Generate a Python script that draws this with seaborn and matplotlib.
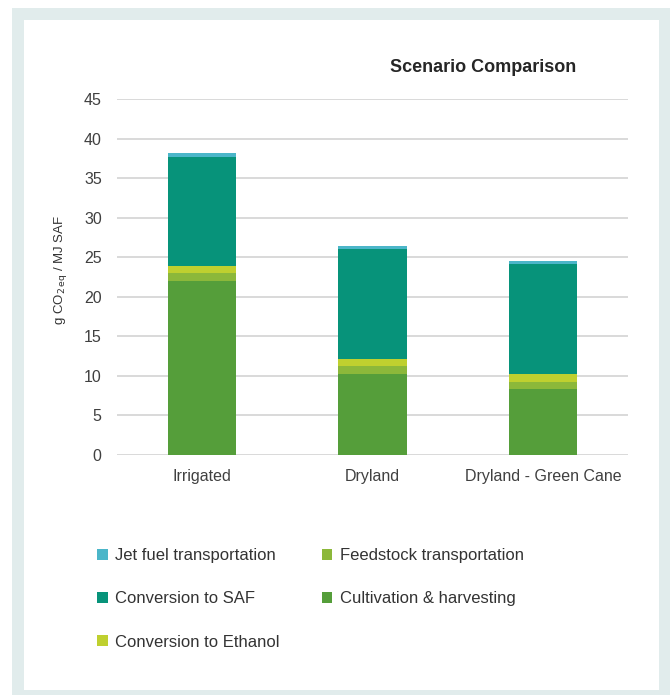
import numpy as np
import pandas as pd
import matplotlib.pyplot as plt
import seaborn as sns
from matplotlib.patches import Rectangle, Patch

# values (g CO2eq / MJ SAF)
scenarios = ['Irrigated', 'Dryland', 'Dryland - Green Cane']
cultivation = [22.0, 10.2, 8.3]
feedstock = [1.0, 1.0, 0.9]
ethanol = [0.9, 0.9, 1.0]
saf = [13.8, 13.9, 13.9]
jet_fuel = [0.45, 0.45, 0.45]

stages = ['Cultivation & harvesting', 'Feedstock transportation',
          'Conversion to Ethanol', 'Conversion to SAF', 'Jet fuel transportation']
colors = {
    'Cultivation & harvesting': '#559e3a',
    'Feedstock transportation': '#8cb83a',
    'Conversion to Ethanol': '#bfd02f',
    'Conversion to SAF': '#07937a',
    'Jet fuel transportation': '#4bb6c9',
}

df = pd.DataFrame({'scenario': scenarios,
                   'Cultivation & harvesting': cultivation,
                   'Feedstock transportation': feedstock,
                   'Conversion to Ethanol': ethanol,
                   'Conversion to SAF': saf,
                   'Jet fuel transportation': jet_fuel})
# cumulative heights so each layer can be drawn over the one above it
cum = df[stages].cumsum(axis=1)
cum['scenario'] = df['scenario']

sns.set_theme(style='whitegrid')
plt.rcParams['font.family'] = ['Liberation Sans', 'DejaVu Sans']

fig = plt.figure(figsize=(6.7, 6.95), dpi=100)
fig.patch.set_facecolor('white')
# light frame around the panel
fig.patches.append(Rectangle((12 / 670, 0), 658 / 670, 687 / 695, transform=fig.transFigure,
                             facecolor='#e1ecec', edgecolor='none', zorder=-2))
fig.patches.append(Rectangle((24 / 670, 5 / 695), 635 / 670, 670 / 695, transform=fig.transFigure,
                             facecolor='white', edgecolor='none', zorder=-1))

ax = fig.add_axes([117 / 670, 1 - 455 / 695, 511 / 670, 356 / 695])
ax.set_facecolor('white')

for stage in reversed(stages):
    sns.barplot(data=cum, x='scenario', y=stage, color=colors[stage], width=0.4,
                saturation=1, linewidth=0, ax=ax, zorder=3)

ax.set_ylim(0, 45)
ax.set_xlim(-0.5, 2.5)
ax.set_yticks(np.arange(0, 46, 5))
ax.grid(axis='y', color='#d9d9d9', linewidth=1.4)
ax.grid(axis='x', visible=False)
for s in ax.spines.values():
    s.set_visible(False)
ax.tick_params(axis='both', length=0, labelsize=11.5, colors='#404040')
ax.tick_params(axis='y', pad=11)
ax.tick_params(axis='x', pad=10)
ax.set_xlabel('')
ax.set_ylabel(r'g CO$_{2\,\mathrm{eq}}$ / MJ SAF', fontsize=9.5, color='#333333')
ax.yaxis.set_label_coords(-0.094, 0.52)

fig.text(483 / 670, 1 - 68 / 695, 'Scenario Comparison', ha='center', va='center',
         fontsize=13, fontweight='bold', color='#262626')

order = ['Jet fuel transportation', 'Conversion to SAF', 'Conversion to Ethanol',
         'Feedstock transportation', 'Cultivation & harvesting']
handles = [Patch(facecolor=colors[k], edgecolor='none', label=k) for k in order]
fig.legend(handles=handles, ncol=2, loc='upper left', bbox_to_anchor=(82 / 670, 1 - 533 / 695),
           frameon=False, fontsize=12, handlelength=0.65, handleheight=0.65,
           handletextpad=0.45, labelspacing=1.7, columnspacing=2.5, labelcolor='#333333')

fig.savefig('out.png', dpi=100)
